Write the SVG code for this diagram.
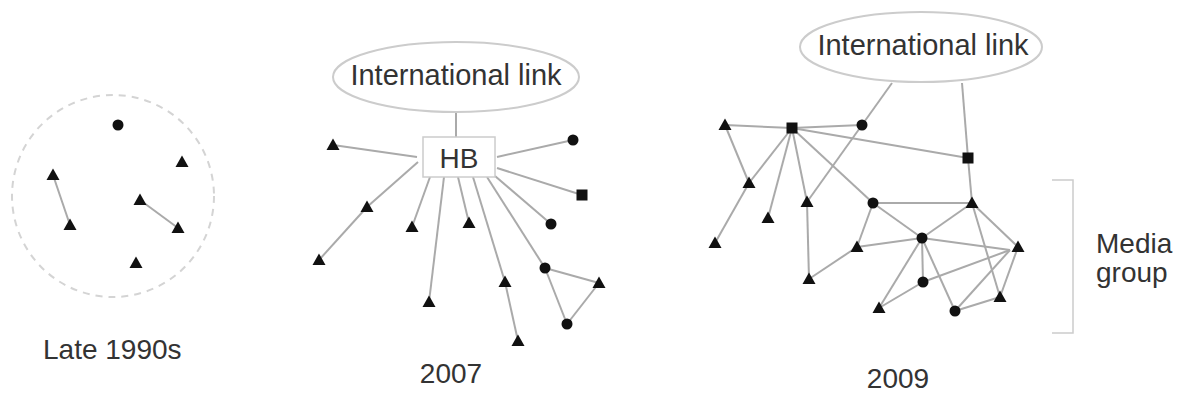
<svg xmlns="http://www.w3.org/2000/svg" xmlns:xlink="http://www.w3.org/1999/xlink" width="1184" height="396" viewBox="0 0 1184 396">
<style>
text{font-family:"Liberation Sans",Arial,sans-serif;fill:#333;}
.lbl{font-size:28px;}
.edge{stroke:#aaa;stroke-width:2;fill:none;}
.oval{fill:#fff;stroke:#ccc;stroke-width:2;}
.box{fill:#fff;stroke:#ccc;stroke-width:1.5;}
.brk{stroke:#ccc;stroke-width:1.5;fill:none;}
.n{fill:#111;}
</style>
<defs>
<polygon id="tri" points="0,-6.5 6.5,5 -6.5,5" class="n"/>
<circle id="dot" r="5.5" class="n"/>
<rect id="sq" x="-5.5" y="-5.5" width="11" height="11" class="n"/>
</defs>
<rect width="1184" height="396" fill="#fff"/>

<!-- Panel 1 -->
<g id="panel1">
<circle cx="113" cy="196" r="101" fill="none" stroke="#d4d4d4" stroke-width="2" stroke-dasharray="7,6"/>
</g>

<g id="connectors">
<!-- panel 1 -->
<line class="edge" x1="53" y1="175" x2="70" y2="225"/>
<line class="edge" x1="140" y1="200" x2="178" y2="228"/>
<!-- panel 2 -->
<line class="edge" x1="456" y1="112" x2="456" y2="137"/>
<line class="edge" x1="333" y1="145" x2="417" y2="157"/>
<line class="edge" x1="418" y1="162" x2="367" y2="207"/>
<line class="edge" x1="367" y1="207" x2="319" y2="260"/>
<line class="edge" x1="430" y1="177" x2="412" y2="227"/>
<line class="edge" x1="444" y1="177" x2="429" y2="302"/>
<line class="edge" x1="458" y1="177" x2="469" y2="223"/>
<line class="edge" x1="473" y1="177" x2="505" y2="282"/>
<line class="edge" x1="505" y1="282" x2="518" y2="341"/>
<line class="edge" x1="487" y1="177" x2="545" y2="268"/>
<line class="edge" x1="495" y1="176" x2="551" y2="224"/>
<line class="edge" x1="497" y1="168" x2="582" y2="195"/>
<line class="edge" x1="497" y1="157" x2="573" y2="140"/>
<line class="edge" x1="545" y1="268" x2="599" y2="283"/>
<line class="edge" x1="545" y1="268" x2="567" y2="324"/>
<line class="edge" x1="567" y1="324" x2="599" y2="283"/>
<!-- panel 3 -->
<line class="edge" x1="892" y1="83" x2="862" y2="125"/>
<line class="edge" x1="862" y1="125" x2="807" y2="202"/>
<line class="edge" x1="962" y1="83" x2="968" y2="158"/>
<line class="edge" x1="968" y1="158" x2="972" y2="203"/>
<line class="edge" x1="725" y1="125" x2="792" y2="128"/>
<line class="edge" x1="792" y1="128" x2="862" y2="125"/>
<line class="edge" x1="792" y1="128" x2="968" y2="158"/>
<line class="edge" x1="725" y1="125" x2="749" y2="183"/>
<line class="edge" x1="792" y1="128" x2="749" y2="183"/>
<line class="edge" x1="792" y1="128" x2="768" y2="218"/>
<line class="edge" x1="792" y1="128" x2="807" y2="202"/>
<line class="edge" x1="792" y1="128" x2="873" y2="203"/>
<line class="edge" x1="749" y1="183" x2="715" y2="243"/>
<line class="edge" x1="807" y1="202" x2="809" y2="279"/>
<line class="edge" x1="873" y1="203" x2="972" y2="203"/>
<line class="edge" x1="873" y1="203" x2="922" y2="238"/>
<line class="edge" x1="873" y1="203" x2="857" y2="247"/>
<line class="edge" x1="972" y1="203" x2="922" y2="238"/>
<line class="edge" x1="972" y1="203" x2="1018" y2="247"/>
<line class="edge" x1="972" y1="203" x2="1000" y2="297"/>
<line class="edge" x1="857" y1="247" x2="922" y2="238"/>
<line class="edge" x1="857" y1="247" x2="809" y2="279"/>
<line class="edge" x1="922" y1="238" x2="1010" y2="250"/>
<line class="edge" x1="922" y1="238" x2="879" y2="308"/>
<line class="edge" x1="922" y1="238" x2="923" y2="282"/>
<line class="edge" x1="922" y1="238" x2="955" y2="311"/>
<line class="edge" x1="923" y1="282" x2="879" y2="308"/>
<line class="edge" x1="923" y1="282" x2="1010" y2="250"/>
<line class="edge" x1="955" y1="311" x2="1010" y2="250"/>
<line class="edge" x1="955" y1="311" x2="1000" y2="297"/>
<line class="edge" x1="1018" y1="247" x2="1000" y2="297"/>
</g>

<g id="p1-nodes">
<use href="#dot" x="118" y="125"/>
<use href="#tri" x="182" y="162"/>
<use href="#tri" x="53" y="175"/>
<use href="#tri" x="70" y="225"/>
<use href="#tri" x="140" y="200"/>
<use href="#tri" x="178" y="228"/>
<use href="#tri" x="136" y="263"/>
</g>

<g id="intl-2007">
<ellipse class="oval" cx="456" cy="77" rx="123" ry="35"/>
<text class="lbl" x="456" y="85" text-anchor="middle" font-size="29" style="font-size:29px">International link</text>
</g>
<g id="hb">
<rect class="box" x="423" y="137" width="72" height="40"/>
<text class="lbl" x="459" y="168" text-anchor="middle">HB</text>
</g>
<g id="p2-nodes">
<use href="#tri" x="333" y="145"/>
<use href="#dot" x="573" y="140"/>
<use href="#sq" x="582" y="195"/>
<use href="#tri" x="367" y="207"/>
<use href="#tri" x="319" y="260"/>
<use href="#tri" x="412" y="227"/>
<use href="#tri" x="469" y="223"/>
<use href="#dot" x="551" y="224"/>
<use href="#tri" x="429" y="302"/>
<use href="#tri" x="505" y="282"/>
<use href="#dot" x="545" y="268"/>
<use href="#tri" x="599" y="283"/>
<use href="#dot" x="567" y="324"/>
<use href="#tri" x="518" y="341"/>
</g>

<g id="intl-2009">
<ellipse class="oval" cx="921" cy="47" rx="121" ry="35"/>
<text class="lbl" x="923" y="55" text-anchor="middle" style="font-size:29px">International link</text>
</g>
<g id="p3-nodes">
<use href="#tri" x="725" y="125"/>
<use href="#sq" x="792" y="128"/>
<use href="#dot" x="862" y="125"/>
<use href="#sq" x="968" y="158"/>
<use href="#tri" x="749" y="183"/>
<use href="#tri" x="768" y="218"/>
<use href="#tri" x="715" y="243"/>
<use href="#tri" x="807" y="202"/>
<use href="#dot" x="873" y="203"/>
<use href="#tri" x="972" y="203"/>
<use href="#dot" x="922" y="238"/>
<use href="#tri" x="857" y="247"/>
<use href="#tri" x="1018" y="247"/>
<use href="#tri" x="809" y="279"/>
<use href="#dot" x="923" y="282"/>
<use href="#tri" x="1000" y="297"/>
<use href="#tri" x="879" y="308"/>
<use href="#dot" x="955" y="311"/>
</g>

<g id="media-group">
<polyline class="brk" points="1052,180 1073,180 1073,333 1052,333"/>
<text class="lbl" x="1096" y="253">Media</text>
<text class="lbl" x="1096" y="282">group</text>
</g>

<g id="captions">
<text class="lbl" x="43" y="359">Late 1990s</text>
<text class="lbl" x="451" y="383" text-anchor="middle">2007</text>
<text class="lbl" x="898" y="388" text-anchor="middle">2009</text>
</g>
</svg>
